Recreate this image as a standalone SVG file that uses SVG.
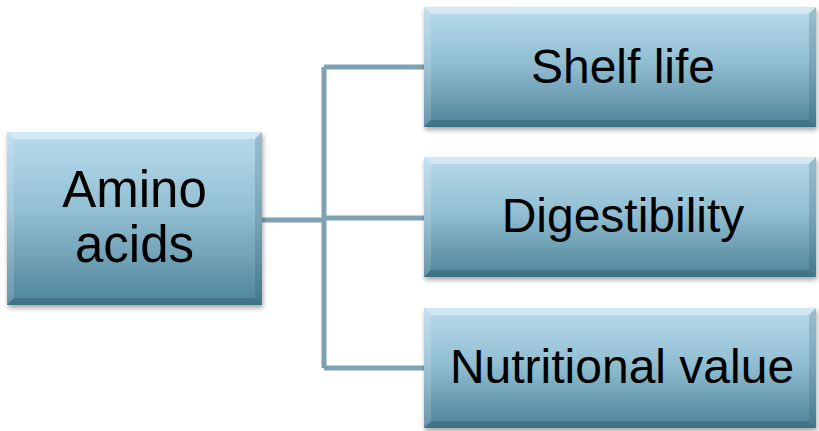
<svg xmlns="http://www.w3.org/2000/svg" width="819" height="431" viewBox="0 0 819 431">
<style>
.lbl{font-family:"Liberation Sans",Arial,sans-serif;font-size:48px;fill:#000;text-anchor:middle}
.big{font-size:51px}
.con{fill:none;stroke:#7ea2b4;stroke-width:5}
.bt{fill:#ffffff;fill-opacity:0.4}
.bl{fill:#ffffff;fill-opacity:0.15}
.br{fill:#1e4a5c;fill-opacity:0.2}
.bb{fill:#1e4a5c;fill-opacity:0.3}
</style>
<defs>
<linearGradient id="g" x1="0" y1="0" x2="0" y2="1">
<stop offset="0" stop-color="#b8dbec"/>
<stop offset="0.45" stop-color="#93bfd3"/>
<stop offset="1" stop-color="#4e8499"/>
</linearGradient>
<filter id="sh" x="-10%" y="-10%" width="120%" height="130%">
<feDropShadow dx="1" dy="3" stdDeviation="2.5" flood-color="#000" flood-opacity="0.35"/>
</filter>
</defs>
<rect width="819" height="431" fill="#ffffff"/>
<g id="connectors">
<path class="con" d="M262,220 H324 M324,67 V368 M324,67 H426 M324,218 H426 M324,368 H426"/>
</g>
<g id="amino">
<rect x="7" y="132" width="255" height="173" fill="url(#g)" filter="url(#sh)"/>
<polygon class="bt" points="7,132 262,132 255,139 14,139"/>
<polygon class="bl" points="7,132 14,139 14,298 7,305"/>
<polygon class="br" points="262,132 262,305 255,298 255,139"/>
<polygon class="bb" points="7,305 14,298 255,298 262,305"/>
<text class="lbl big" x="134.5" y="207">Amino</text>
<text class="lbl big" x="134.5" y="262">acids</text>
</g>
<g id="shelf">
<rect x="424" y="7" width="392" height="120" fill="url(#g)" filter="url(#sh)"/>
<polygon class="bt" points="424,7 816,7 809,14 431,14"/>
<polygon class="bl" points="424,7 431,14 431,120 424,127"/>
<polygon class="br" points="816,7 816,127 809,120 809,14"/>
<polygon class="bb" points="424,127 431,120 809,120 816,127"/>
<text class="lbl" x="623" y="83">Shelf life</text>
</g>
<g id="digest">
<rect x="424" y="157" width="392" height="120" fill="url(#g)" filter="url(#sh)"/>
<polygon class="bt" points="424,157 816,157 809,164 431,164"/>
<polygon class="bl" points="424,157 431,164 431,270 424,277"/>
<polygon class="br" points="816,157 816,277 809,270 809,164"/>
<polygon class="bb" points="424,277 431,270 809,270 816,277"/>
<text class="lbl" x="623" y="232">Digestibility</text>
</g>
<g id="nutri">
<rect x="424" y="308" width="392" height="120" fill="url(#g)" filter="url(#sh)"/>
<polygon class="bt" points="424,308 816,308 809,315 431,315"/>
<polygon class="bl" points="424,308 431,315 431,421 424,428"/>
<polygon class="br" points="816,308 816,428 809,421 809,315"/>
<polygon class="bb" points="424,428 431,421 809,421 816,428"/>
<text class="lbl" x="622" y="383">Nutritional value</text>
</g>
</svg>
